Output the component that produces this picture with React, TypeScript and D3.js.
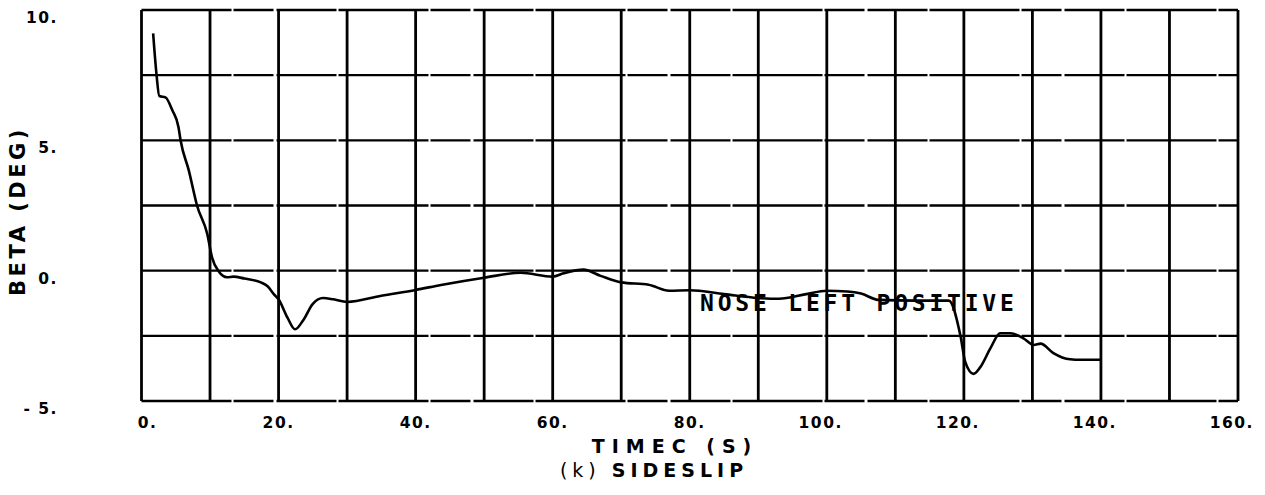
import React, { useEffect, useRef } from 'react';
import * as d3 from 'd3';

// time (s) and sideslip angle (deg)
const timeS = [
  1.7, 2.2, 2.6, 3.5, 4.5, 5.4, 5.7, 6.9, 8.1, 9.6, 10.3, 11.2, 12.5, 13.4, 15,
  17.4, 18.4, 19.3, 20, 21.3, 22.4, 23.6, 25, 26.5, 28, 30, 35, 40, 43.7, 50,
  55.3, 60, 61.6, 64.5, 67, 70, 74, 77, 80, 85, 90, 93, 97, 100, 103, 105,
  107.5, 113, 117.8, 119.5, 120.2, 121.4, 122.4, 123.9, 125.3, 126.8, 128.7,
  130.2, 131.2, 133, 135.5, 137, 140,
];
const betaDeg = [
  9.1, 7.5, 6.7, 6.65, 6.15, 5.5, 5.0, 3.85, 2.5, 1.4, 0.5, 0.0, -0.25, -0.23,
  -0.3, -0.45, -0.6, -0.9, -1.1, -1.8, -2.25, -1.9, -1.27, -1.05, -1.1, -1.2,
  -0.96, -0.74, -0.55, -0.27, -0.08, -0.23, -0.1, 0.04, -0.2, -0.45, -0.54,
  -0.77, -0.75, -0.9, -1.05, -1.08, -0.9, -0.77, -0.8, -0.88, -1.12, -1.15,
  -1.15, -2.5, -3.5, -3.96, -3.7, -2.96, -2.4, -2.4, -2.6, -2.85, -2.8, -3.15,
  -3.4, -3.42, -3.42,
];

const xTicks = [0, 20, 40, 60, 80, 100, 120, 140, 160];
const yTicks = [10, 5, 0, -5];
const yTickLabels = ['10.', '5.', '0.', '- 5.'];
const note = { t: 81.5, beta: -1.55, text: 'NOSE LEFT POSITIVE' };

const W = 1265;
const H = 495;

const SideslipChart = () => {
  const ref = useRef<SVGSVGElement>(null);

  useEffect(() => {
    if (!ref.current) return;
    const svg = d3.select(ref.current);
    svg.selectAll('*').remove();

    const x = d3.scaleLinear().domain([0, 160]).range([141.5, 1238]);
    const y = d3.scaleLinear().domain([-5, 10]).range([401, 10]);
    const font = 'DejaVu Sans, sans-serif';

    const grid = svg.append('g').attr('stroke', '#000').attr('fill', 'none');

    // horizontal grid (every 2.5 deg), slightly broken like the scanned plot
    grid.selectAll('line.h')
      .data(d3.range(-5, 10.01, 2.5))
      .join('line')
      .attr('x1', x(0))
      .attr('x2', x(160))
      .attr('y1', d => y(d))
      .attr('y2', d => y(d))
      .attr('stroke-width', 2.4)
      .attr('stroke-dasharray', '90 2 40 3 60 2');

    // vertical grid (every 10 s)
    grid.selectAll('line.v')
      .data(d3.range(0, 160.01, 10))
      .join('line')
      .attr('x1', d => x(d))
      .attr('x2', d => x(d))
      .attr('y1', y(10))
      .attr('y2', y(-5))
      .attr('stroke-width', 2.8);

    // curve
    const pts = timeS.map((t, i) => [t, betaDeg[i]] as [number, number]);
    const line = d3.line<[number, number]>()
      .x(d => x(d[0]))
      .y(d => y(d[1]))
      .curve(d3.curveMonotoneX);
    svg.append('path')
      .datum(pts)
      .attr('fill', 'none')
      .attr('stroke', '#000')
      .attr('stroke-width', 2.6)
      .attr('stroke-linejoin', 'round')
      .attr('d', line);

    // x tick labels
    svg.append('g')
      .selectAll('text')
      .data(xTicks)
      .join('text')
      .attr('x', d => x(d) + 16)
      .attr('y', y(-5) + 27)
      .attr('text-anchor', 'end')
      .attr('font-family', font)
      .attr('font-weight', 'bold')
      .attr('font-size', 15.5)
      .attr('letter-spacing', 1.5)
      .text(d => `${d}.`);

    // y tick labels
    svg.append('g')
      .selectAll('text')
      .data(yTicks)
      .join('text')
      .attr('x', 58)
      .attr('y', d => y(d) + 13)
      .attr('text-anchor', 'end')
      .attr('font-family', font)
      .attr('font-weight', 'bold')
      .attr('font-size', 15.5)
      .attr('letter-spacing', 1.5)
      .text((d, i) => yTickLabels[i]);

    // y axis title
    svg.append('text')
      .attr('transform', 'translate(25,211) rotate(-90)')
      .attr('text-anchor', 'middle')
      .attr('font-family', font)
      .attr('font-weight', 'bold')
      .attr('font-size', 21)
      .attr('letter-spacing', 3.5)
      .text('BETA (DEG)');

    // x axis title
    svg.append('text')
      .attr('x', 675)
      .attr('y', 453)
      .attr('text-anchor', 'middle')
      .attr('font-family', font)
      .attr('font-weight', 'bold')
      .attr('font-size', 19)
      .attr('letter-spacing', 7)
      .text('TIMEC (S)');

    // caption
    const cap = svg.append('text')
      .attr('x', 654)
      .attr('y', 477)
      .attr('text-anchor', 'middle')
      .attr('font-family', font)
      .attr('font-size', 19)
      .attr('letter-spacing', 5);
    cap.append('tspan').text('(k) ');
    cap.append('tspan').attr('font-weight', 'bold').text('SIDESLIP');

    // annotation
    svg.append('text')
      .attr('x', x(note.t))
      .attr('y', y(note.beta))
      .attr('font-family', 'DejaVu Sans Mono, monospace')
      .attr('font-weight', 'bold')
      .attr('font-size', 23)
      .attr('letter-spacing', 3.8)
      .text(note.text);
  }, []);

  return (
    <svg
      ref={ref}
      width={W}
      height={H}
      style={{ position: 'absolute', left: 0, top: 0, background: '#fff' }}
    />
  );
};

export default function App() {
  return <SideslipChart />;
}
